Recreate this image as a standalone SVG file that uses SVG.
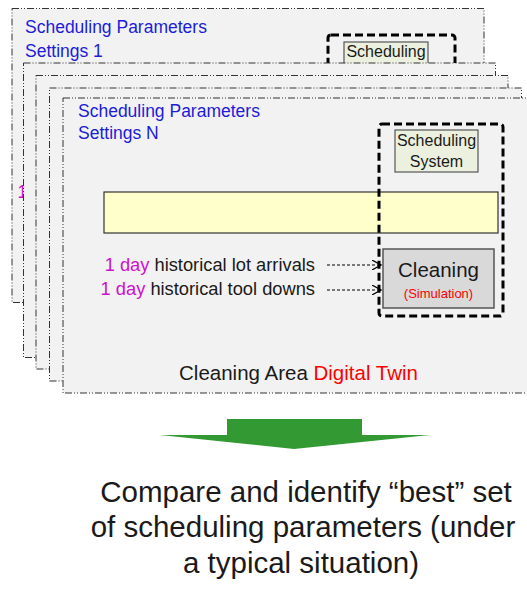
<svg xmlns="http://www.w3.org/2000/svg" width="527" height="590" viewBox="0 0 527 590">
<defs>
<style>
.panel{fill:#f2f2f2;stroke:#333;stroke-width:1;stroke-dasharray:7 2 1 2 1 2}
.dbox{fill:none;stroke:#000;stroke-width:3;stroke-dasharray:8 4}
.t{font-family:"Liberation Sans",Arial,sans-serif}
.blue{fill:#1c1cd9;font-size:17.5px}
.mag{fill:#cc11cc}
.dark{fill:#1a1a1a}
.red{fill:#ff0000}
.conn{fill:none;stroke:#000;stroke-width:1;stroke-dasharray:3 2}
</style>
<marker id="ah" viewBox="0 0 10 10" refX="9" refY="5" markerWidth="10" markerHeight="10" markerUnits="userSpaceOnUse" orient="auto">
<path d="M0,0 L9,5 L0,10" fill="none" stroke="#000" stroke-width="1.2"/>
</marker>
</defs>
<rect width="527" height="590" fill="#fff"/>

<g id="panel1">
<rect class="panel" x="12" y="8.5" width="472" height="294"/>
<text class="t blue" x="25" y="33">Scheduling Parameters</text>
<text class="t blue" x="25" y="57">Settings 1</text>
<text class="t mag" x="17.5" y="198" font-size="17.5">1</text>
<rect class="dbox" x="328" y="35" width="127" height="60" rx="3"/>
<rect x="344" y="42" width="84" height="40" fill="#ebf1de" stroke="#555" stroke-width="1.2"/>
<text class="t dark" x="386" y="57" font-size="16" text-anchor="middle">Scheduling</text>
</g>

<g id="panel2"><rect class="panel" x="23.5" y="63" width="472" height="294.5"/></g>
<g id="panel3"><rect class="panel" x="36" y="75.5" width="472" height="293.5"/></g>
<g id="panel4"><rect class="panel" x="49.5" y="88" width="472" height="293"/></g>

<g id="panelN">
<rect class="panel" x="63" y="98" width="472" height="295"/>
<text class="t blue" x="78" y="117">Scheduling Parameters</text>
<text class="t blue" x="78" y="139">Settings N</text>
<text class="t" x="298.5" y="380" font-size="20.5" text-anchor="middle"><tspan class="dark">Cleaning Area </tspan><tspan class="red">Digital Twin</tspan></text>
</g>

<g id="bar">
<rect x="104" y="192" width="394" height="41" fill="#ffffcc" stroke="#333" stroke-width="1.2"/>
</g>

<g id="twin-box">
<rect class="dbox" x="379" y="124" width="124" height="192" rx="3"/>
</g>

<g id="scheduling-system">
<rect x="395" y="130" width="83" height="42" fill="#ebf1de" stroke="#555" stroke-width="1.2"/>
<text class="t dark" x="436.5" y="146" font-size="16" text-anchor="middle">Scheduling</text>
<text class="t dark" x="436.5" y="167" font-size="16" text-anchor="middle">System</text>
</g>

<g id="cleaning">
<rect x="383" y="249" width="111" height="59" fill="#d9d9d9" stroke="#555" stroke-width="1.5"/>
<text class="t dark" x="438.5" y="277" font-size="20.5" text-anchor="middle">Cleaning</text>
<text class="t red" x="438.5" y="298" font-size="13" text-anchor="middle">(Simulation)</text>
</g>

<g id="lot-arrivals">
<text class="t" x="315" y="271" font-size="18.3" text-anchor="end"><tspan class="mag">1 day</tspan><tspan class="dark"> historical lot arrivals</tspan></text>
</g>
<g id="tool-downs">
<text class="t" x="315" y="295" font-size="18.3" text-anchor="end"><tspan class="mag">1 day</tspan><tspan class="dark"> historical tool downs</tspan></text>
</g>

<g id="connectors">
<line class="conn" x1="327" y1="265" x2="381" y2="265" marker-end="url(#ah)"/>
<line class="conn" x1="327" y1="290" x2="381" y2="290" marker-end="url(#ah)"/>
</g>

<g id="arrow">
<polygon points="227,419 362,419 362,435 430,435 294,449 160,435 227,435" fill="#339933"/>
</g>

<g id="conclusion">
<text class="t dark" x="306" y="502" font-size="29.5" text-anchor="middle">Compare and identify “best” set</text>
<text class="t dark" x="303" y="537" font-size="29.5" text-anchor="middle">of scheduling parameters (under</text>
<text class="t dark" x="301" y="573" font-size="29.5" text-anchor="middle">a typical situation)</text>
</g>
</svg>
